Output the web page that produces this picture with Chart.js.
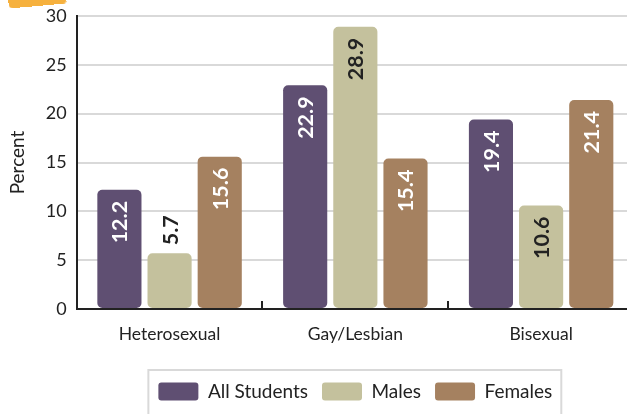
<!DOCTYPE html>
<html>
<head>
<meta charset="utf-8">
<script src="https://cdn.jsdelivr.net/npm/chart.js@4"></script>
<style>
  html,body{margin:0;padding:0;background:#fff;overflow:hidden;}
  #wrap{position:relative;width:634px;height:414px;}
  #tab{position:absolute;left:8px;top:-14px;width:58px;height:20px;background:#f6b13e;border-radius:4px;transform:rotate(-5deg);}
</style>
</head>
<body>
<div id="wrap">
  <canvas id="chart" width="634" height="414"></canvas>
  <div id="tab"></div>
</div>
<script>
// ── orientation by sex: grouped bars, labels rotated inside the bar tops ──

const categories  = ['Heterosexual', 'Gay/Lesbian', 'Bisexual'];
const allStudents = [12.2, 22.9, 19.4];
const males       = [5.7, 28.9, 10.6];
const females     = [15.6, 15.4, 21.4];
const yTicks      = [0, 5, 10, 15, 20, 25, 30];

const FONT = 'Lato';
const INK  = '#222';

// value labels, written bottom-to-top; short bars get them above
const barLabels = {
  id:'barLabels',
  afterDatasetsDraw(chart){
    const ctx = chart.ctx;
    ctx.save();
    ctx.font = `bold 21.5px ${FONT}`;
    chart.data.datasets.forEach((ds,di)=>{
      chart.getDatasetMeta(di).data.forEach((bar,i)=>{
        const txt = ds.data[i].toFixed(1);
        const w = ctx.measureText(txt).width;
        const h = bar.base - bar.y;
        ctx.save();
        ctx.translate(bar.x, bar.y);
        ctx.rotate(-Math.PI/2);
        ctx.textBaseline = 'middle';
        if(h > w + 30){
          ctx.textAlign = 'right';
          ctx.fillStyle = ds.labelColor;
          ctx.fillText(txt, -11, 1);
        } else {
          ctx.textAlign = 'left';
          ctx.fillStyle = INK;
          ctx.fillText(txt, 8, 1);
        }
        ctx.restore();
      });
    });
    ctx.restore();
  }
};

// short ticks on the x axis between the groups
const groupTicks = {
  id:'groupTicks',
  afterDraw(chart){
    const x = chart.scales.x, area = chart.chartArea, ctx = chart.ctx;
    const step = x.getPixelForValue(1) - x.getPixelForValue(0);
    ctx.save();
    ctx.strokeStyle = INK;
    ctx.lineWidth = 2;
    for(let i=1;i<categories.length;i++){
      const px = Math.round(x.getPixelForValue(i) - step/2);
      ctx.beginPath();
      ctx.moveTo(px, area.bottom - 8);
      ctx.lineTo(px, area.bottom);
      ctx.stroke();
    }
    ctx.restore();
  }
};

// frame round the legend
const legendFrame = {
  id:'legendFrame',
  afterDraw(chart){
    const boxes = chart.legend.legendHitBoxes;
    if(!boxes || !boxes.length) return;
    const first = boxes[0], last = boxes[boxes.length-1];
    const ctx = chart.ctx;
    ctx.save();
    ctx.strokeStyle = '#d9d9d9';
    ctx.lineWidth = 2;
    const left = first.left - 10, right = last.left + last.width + 9;
    const top = first.top - 12;
    ctx.strokeRect(left, top, right - left, chart.height + 10 - top);
    ctx.restore();
  }
};

const barStyle = {borderRadius:5, borderSkipped:false, categoryPercentage:0.81, barPercentage:0.88};

new Chart(document.getElementById('chart').getContext('2d'), {
  type:'bar',
  data:{
    labels:categories,
    datasets:[
      {label:'All Students', data:allStudents, backgroundColor:'#5f4f72', labelColor:'#fff', ...barStyle},
      {label:'Males',        data:males,       backgroundColor:'#c4c19d', labelColor:INK,   ...barStyle},
      {label:'Females',      data:females,     backgroundColor:'#a58160', labelColor:'#fff', ...barStyle},
    ]
  },
  options:{
    responsive:false,
    animation:false,
    layout:{padding:{top:16, left:0, right:0, bottom:3}},
    plugins:{
      tooltip:{enabled:false},
      legend:{
        position:'bottom',
        fullSize:false,
        labels:{
          font:{family:FONT, size:19}, color:INK,
          boxWidth:40, boxHeight:18, padding:14,
          useBorderRadius:true, borderRadius:3
        }
      }
    },
    scales:{
      x:{
        grid:{display:false},
        border:{color:INK, width:2},
        ticks:{font:{family:FONT, size:17.5}, color:INK, padding:7},
        afterFit(scale){ scale.height += 16; }
      },
      y:{
        min:0, max:30,
        afterBuildTicks(scale){ scale.ticks = yTicks.map(v=>({value:v})); },
        afterFit(scale){ scale.paddingTop = 0; scale.paddingBottom = 0; },
        grid:{color:'#d9d9d9', lineWidth:2, drawTicks:false},
        border:{color:INK, width:2},
        ticks:{font:{family:FONT, size:18}, color:INK, padding:10},
        title:{display:true, text:'Percent', font:{family:FONT, size:19}, color:INK, padding:{top:6,bottom:7}}
      }
    }
  },
  plugins:[barLabels, groupTicks, legendFrame]
});
</script>
</body>
</html>
